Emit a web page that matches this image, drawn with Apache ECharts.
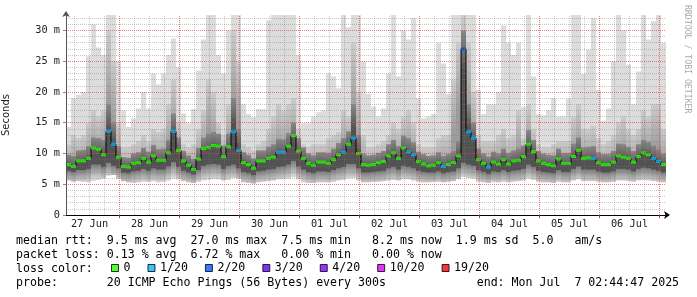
<!DOCTYPE html>
<html><head><meta charset="utf-8">
<script src="https://cdn.jsdelivr.net/npm/echarts@6/dist/echarts.min.js"></script>
<style>html,body{margin:0;padding:0;background:#fff}#c{width:697px;height:297px}</style>
</head><body><div id="c"></div>
<script>
// time: hours since 27 Jun 00:00; graph start ~02:44:47 (snapped to the pixel grid), 2-hour columns
const startHour = 2.6;
const stepHours = 2;
const spanHours = 240;
const dayLabels = ['27 Jun','28 Jun','29 Jun','30 Jun','01 Jul','02 Jul','03 Jul','04 Jul','05 Jul','06 Jul'];
const dayLabelHours = [12,36,60,84,108,132,156,180,204,228];
const dayStartHours = [24,48,72,96,120,144,168,192,216,240];
const yTickLabels = ['0','5 m','10 m','15 m','20 m','25 m','30 m'];
const lossLevels = ['0','1/20','2/20','3/20','4/20','10/20','19/20'];
const lossColors = ['#26ff00','#00b8ff','#0059ff','#5e00ff','#7e00ff','#dd00ff','#ff0000'];

// median rtt (ms)
const medianRtt = [
 8.2,7.9,8.8,8.8,9.2,10.9,10.7,9.8,13.6,11.5,
 9.4,7.9,7.8,8.4,8.5,9.2,8.6,9.6,8.9,8.9,
 10.1,13.6,10.5,8.8,8.1,7.4,9.1,10.8,11.0,11.3,
 11.2,9.5,11.1,13.5,10.5,8.5,8.2,7.6,8.8,8.8,
 9.2,9.4,10.2,10.2,11.2,12.9,10.4,9.2,8.4,8.1,
 8.6,8.6,8.4,9.0,9.8,10.2,11.5,12.5,10.0,8.2,
 8.1,8.2,8.5,8.7,9.6,10.1,9.2,10.9,10.3,9.8,
 8.7,8.3,8.0,8.1,8.5,7.9,8.2,8.5,9.6,27.0,
 13.5,12.5,9.0,8.4,7.8,8.6,8.3,9.0,8.3,8.8,
 8.9,9.5,11.5,10.3,8.8,8.4,8.2,8.0,9.1,8.4,
 8.4,9.5,10.5,9.2,9.3,9.2,8.5,8.2,8.2,8.6,
 9.6,9.4,9.2,8.6,9.5,10.1,9.8,9.2,8.7,8.2];
// loss level index per column
const lossIdx = [
 0,0,0,0,0,0,0,0,1,1, 0,0,0,0,0,0,0,0,0,0, 0,1,0,0,0,0,0,0,0,0,
 0,0,0,1,1,0,0,0,0,0, 0,0,1,1,0,0,0,0,0,0, 0,0,0,0,0,1,0,1,0,0,
 0,0,0,0,0,0,0,0,1,1, 0,0,0,0,0,1,0,0,0,2, 1,1,0,0,1,0,0,0,0,0,
 0,0,0,0,0,0,0,0,0,0, 0,0,0,0,0,1,0,0,0,0, 0,0,0,0,0,0,0,1,1,0];
// smoke: fastest ping
const pingMin = [
 5.6,5.4,5.5,5.4,5.3,5.5,5.7,5.9,6.4,6.5, 5.9,5.5,5.3,5.2,5.3,5.4,5.4,5.5,5.3,5.4,
 5.6,5.9,5.8,5.5,5.3,5.2,5.4,5.6,5.7,5.8, 5.8,5.6,5.7,6.0,5.9,5.3,5.2,5.1,5.3,5.4,
 5.5,5.6,5.8,5.8,5.9,6.1,5.8,5.3,5.2,5.2, 5.3,5.3,5.3,5.4,5.6,5.7,5.9,6.0,5.6,5.3,
 5.3,5.4,5.4,5.5,5.6,5.7,5.6,5.8,5.8,5.6, 5.4,5.3,5.3,5.4,5.4,5.3,5.4,5.5,5.8,6.2,
 6.0,5.9,5.4,5.3,5.2,5.4,5.3,5.4,5.3,5.4, 5.5,5.6,5.9,5.7,5.4,5.3,5.3,5.2,5.4,5.3,
 5.3,5.6,5.8,5.5,5.5,5.5,5.4,5.3,5.3,5.4, 5.6,5.6,5.5,5.4,5.6,5.7,5.6,5.5,5.4,5.3];
// smoke: lower edge of dense core
const pingLowQ = [
 7.2,7.0,7.3,7.3,7.5,8.2,8.2,7.8,8.5,8.0, 7.6,6.9,6.8,7.1,7.2,7.5,7.2,7.6,7.4,7.4,
 7.9,8.6,7.8,7.2,6.9,6.6,7.3,8.0,8.2,8.3, 8.2,7.5,8.0,8.2,7.6,7.0,6.8,6.5,7.1,7.2,
 7.4,7.5,7.8,7.9,8.2,8.8,7.9,7.4,7.0,6.8, 7.1,7.1,7.0,7.3,7.6,7.8,8.3,8.3,7.6,6.9,
 6.9,7.0,7.1,7.2,7.6,7.8,7.4,8.0,7.8,7.6, 7.2,7.0,6.9,6.9,7.1,6.8,7.0,7.1,7.6,8.5,
 8.2,8.0,7.3,7.0,6.7,7.1,7.0,7.3,7.0,7.2, 7.3,7.5,8.2,7.8,7.2,7.0,6.9,6.8,7.3,7.0,
 7.0,7.5,7.9,7.4,7.4,7.4,7.1,6.9,6.9,7.1, 7.5,7.5,7.4,7.1,7.5,7.7,7.6,7.4,7.2,6.9];
// smoke: upper edge of dense core
const pingHighQ = [
 9.8,9.6,10.5,10.6,11.2,12.6,12.5,12.2,18,15, 11.2,9.4,9.3,10,10.2,10.9,10.3,11.4,10.7,10.8,
 12.2,16.5,12.6,10.4,9.7,9.1,10.9,12.6,13.2,13.5, 13.2,11.3,13.2,19,14,10.2,9.8,9.2,10.5,10.5,
 11.1,11.5,12.4,12.3,13.3,15,12.5,11,10,9.7, 10.2,10.2,10.1,10.8,11.7,12.5,13.6,18,13,9.9,
 9.7,9.8,10.1,10.4,11.5,12.2,11.2,12.9,12.5,11.8, 10.3,9.9,9.6,9.7,10.2,9.6,9.9,10.4,12,30,
 18,15,10.8,10,9.5,10.3,10,10.8,10.1,10.5, 10.8,11.3,13.8,12.2,10.4,10,9.8,9.7,10.8,10.1,
 10.1,11.6,12.6,11,11.1,11.2,10.2,9.9,9.9,10.4, 11.6,11.5,11.1,10.4,11.5,12.2,11.9,11.3,10.7,10];
// smoke: upper edge of medium smoke
const pingUpper = [
 11.5,13,12.5,13,15,17,16,17,30,25, 15,11,11,11.5,12,13,12,14,13.5,14,
 18,22,15,11.5,11,11.5,14,17,22,20, 15,13,18,30,25,11.5,11,10.5,11.5,12,
 14,16,18,17,18,19,14,11.5,11,11.5, 11.5,11.5,12.5,13,13.5,17,16,28,20,13,
 11,11,11.5,12,13,15,14,16,17,15, 11.5,11,11,11,12.5,13,13,22,28,32.5,
 28,20,13,12,12,12,13,14,12.5,13, 17,12.5,18,14,11.5,11,11,11.5,12,12,
 12,16,18,14,14,14.5,12.5,11.5,12,13, 15,16,14,13,14,17,16,18,18,14];
// smoke: slowest ping (clipped at graph top)
const pingMax = [
 14.3,19,19.5,20,25.8,31,27.2,26,32.5,32.5, 25,17,14.3,15.7,17.3,20,17.3,23,21.2,23,
 26,28.7,24,16.5,14.9,17.2,23.5,28.5,32.5,32.5, 26,23,30,32.5,32.5,18,16.4,15.9,17.2,17.2,
 31.6,32.5,32.5,32.5,32.5,32.5,26,14.9,14.9,16, 16.7,17,23,22.5,20.6,32.5,30.5,32.5,32.5,25,
 19.7,17.6,16,17.3,23,32.5,22.5,30,28.5,32, 19,15.7,16,16.4,28,24.6,19.7,32.5,32.5,32.5,
 32.5,32.5,20.3,16.4,18,18,20,30.8,28,26, 28,17.6,32.5,22.5,16.4,16.2,17,19,16,16,
 18.9,32.5,32.5,22.9,26.9,32,20.3,15.3,17.3,25, 32.5,30,24.4,18,23.3,32.5,28.5,31.5,32.5,28];

const statLines = [
 'median rtt:  9.5 ms avg  27.0 ms max  7.5 ms min   8.2 ms now  1.9 ms sd  5.0   am/s',
 'packet loss: 0.13 % avg  6.72 % max   0.00 % min   0.00 % now',
 'loss color:',
 'probe:       20 ICMP Echo Pings (56 Bytes) every 300s             end: Mon Jul  7 02:44:47 2025'
];

const colTimes = medianRtt.map((_, i) => startHour + stepHours * (i + 0.5));
const pairs = arr => arr.map((v, i) => [colTimes[i], v]);

const monoFont = '"DejaVu Sans Mono", monospace';
function barLayer(name, arr, color) {
  return { type: 'bar', name, data: pairs(arr), barWidth: 5, barGap: '-100%', z: 1, silent: true,
    itemStyle: { color }, emphasis: { disabled: true } };
}
function vgrad(stops) {
  return { type: 'linear', x: 0, y: 0, x2: 0, y2: 1, colorStops: stops.map(s => ({ offset: s[0], color: s[1] })) };
}
function gridSeries(name, marks, z) {
  return { type: 'line', name, data: [], z, silent: true, symbol: 'none',
    markLine: { silent: true, symbol: ['none', 'none'], label: { show: false }, animation: false, data: marks } };
}

// grid line positions
const minorX = [], minorY = [], majorY = [];
for (let h = 6; h <= 240; h += 6) if (h % 24 !== 0) minorX.push(h);
for (let v = 1; v <= 32; v++) (v % 5 === 0 ? majorY : minorY).push(v);
const minorStyle = { color: 'rgba(120,120,120,0.4)', width: 1, type: [1, 1] };
const majorStyle = { color: 'rgba(225,70,70,0.7)', width: 1, type: [1, 1] };

const series = [
  barLayer('max', pingMax, '#dcdcdc'),
  barLayer('upper', pingUpper, vgrad([[0, '#cbcbcb'], [0.4, '#9c9c9c'], [1, '#9c9c9c']])),
  barLayer('core', pingHighQ, vgrad([[0, '#888888'], [0.22, '#525252'], [1, '#525252']])),
  barLayer('lower', pingLowQ, vgrad([[0, '#7c7c7c'], [0.3, '#dadada'], [1, '#dadada']])),
  barLayer('min', pingMin, '#ffffff'),
  gridSeries('minorGrid', [].concat(minorX.map(h => ({ xAxis: h, lineStyle: minorStyle })),
                                    minorY.map(v => ({ yAxis: v, lineStyle: minorStyle }))), 2),
  gridSeries('majorGridY', majorY.map(v => ({ yAxis: v, lineStyle: majorStyle })), 2),
  gridSeries('majorGridX', dayStartHours.map(h => ({ xAxis: h, lineStyle: majorStyle })), 2),
  { type: 'line', name: 'median', data: pairs(medianRtt), step: 'middle', symbol: 'none', z: 3, silent: true,
    lineStyle: { color: '#000', width: 1 } }
];
lossLevels.forEach((name, k) => {
  series.push({ type: 'scatter', name, z: 4, silent: true, symbol: 'rect', symbolSize: [5, 3],
    itemStyle: { color: lossColors[k] },
    data: medianRtt.map((v, i) => lossIdx[i] === k ? [colTimes[i], v] : null).filter(Boolean) });
});

const chart = echarts.init(document.getElementById('c'), null, { renderer: 'canvas' });
chart.setOption({
  animation: false,
  backgroundColor: '#fff',
  grid: { left: 66, right: 31, top: 15, bottom: 82, containLabel: false, outerBoundsMode: 'none' },
  xAxis: {
    type: 'value', min: startHour, max: startHour + spanHours, z: 10,
    axisLine: { lineStyle: { color: '#000', width: 1 }, symbol: ['none', 'arrow'], symbolSize: [6, 6], symbolOffset: [0, 4] },
    axisTick: { show: true, customValues: dayStartHours, length: 3, lineStyle: { color: '#555' } },
    axisLabel: { customValues: dayLabelHours, margin: 4, color: '#222', fontFamily: monoFont, fontSize: 10.3,
      formatter: v => dayLabels[Math.round((v - 12) / 24)] || '' },
    splitLine: { show: false }
  },
  yAxis: {
    type: 'value', min: 0, max: 32.5, interval: 5, z: 10,
    name: 'Seconds', nameLocation: 'middle', nameGap: 55,
    nameTextStyle: { fontFamily: '"DejaVu Sans", sans-serif', fontSize: 10, color: '#222' },
    axisLine: { show: true, lineStyle: { color: '#555', width: 1 }, symbol: ['none', 'arrow'], symbolSize: [6, 6], symbolOffset: [0, 4] },
    axisTick: { show: true, length: 3, lineStyle: { color: '#888' } },
    axisLabel: { margin: 6, color: '#222', fontFamily: monoFont, fontSize: 10.3, showMaxLabel: false,
      formatter: v => (v % 5 === 0 && v <= 30) ? yTickLabels[v / 5] : '' },
    splitLine: { show: false }
  },
  legend: {
    data: lossLevels, left: 111, top: 262, padding: 0, itemGap: 17, itemWidth: 7, itemHeight: 7,
    icon: 'rect', selectedMode: false,
    itemStyle: { borderColor: '#000', borderWidth: 1 },
    textStyle: { fontFamily: monoFont, fontSize: 11.6, color: '#000' }
  },
  graphic: [
    ...statLines.map((t, i) => ({ type: 'text', x: 16, y: 241 + 14 * i, silent: true,
      style: { text: t, font: '11.6px ' + monoFont, fill: '#000', verticalAlign: 'middle' } })),
    { type: 'text', x: 687, y: 5, rotation: -Math.PI / 2, silent: true,
      style: { text: 'RRDTOOL / TOBI OETIKER', font: '8.2px ' + monoFont, fill: '#aaaaaa', verticalAlign: 'middle' } }
  ],
  series
});
</script>
</body></html>
